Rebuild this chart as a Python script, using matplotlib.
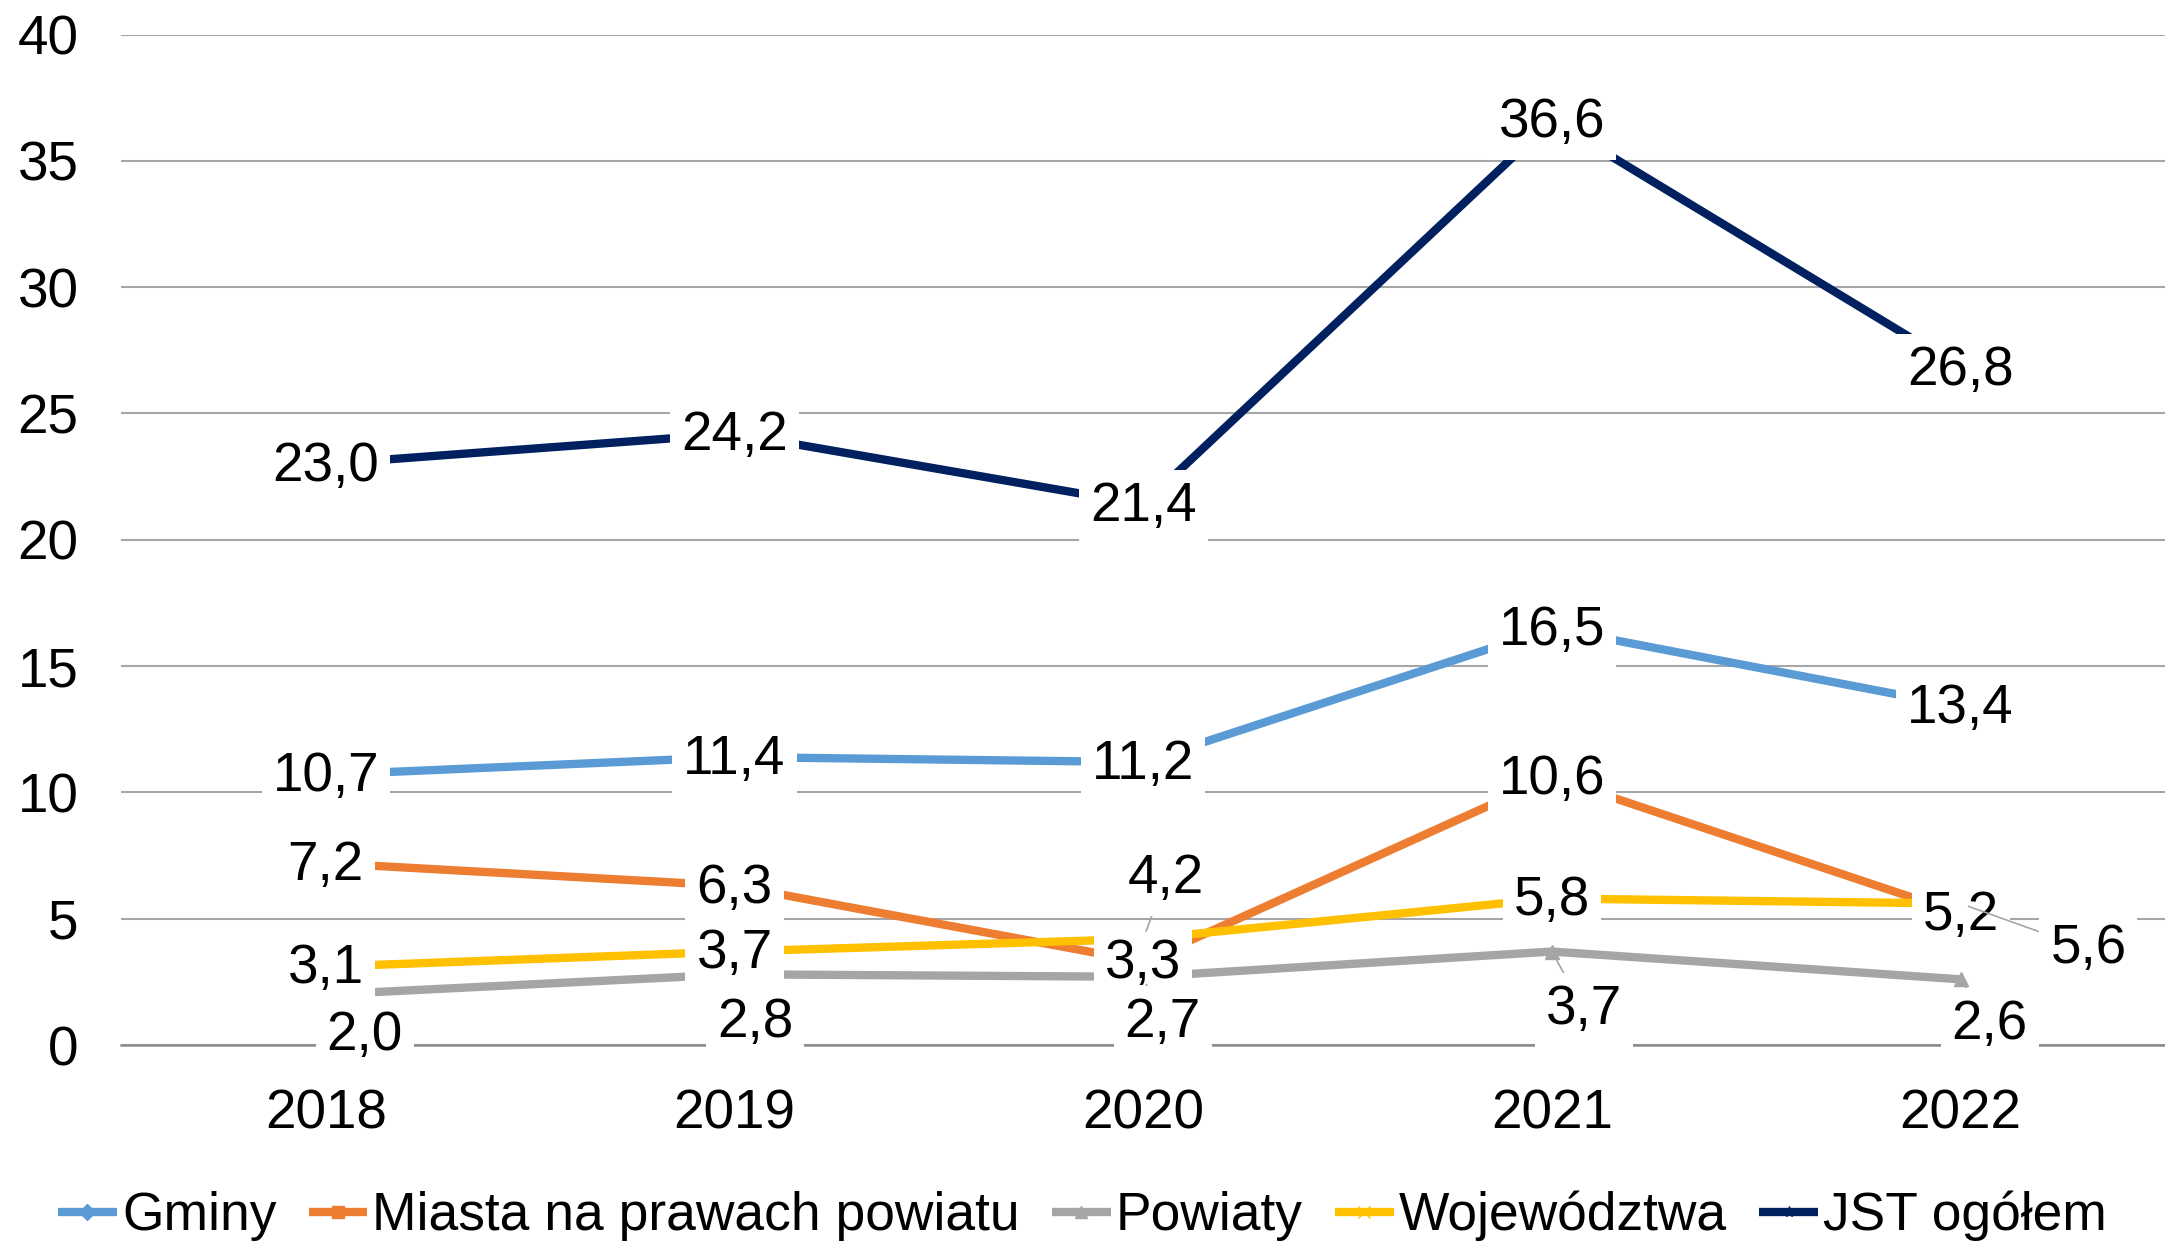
import matplotlib
matplotlib.use("Agg")
import matplotlib.pyplot as plt

plt.rcParams['font.family'] = ['Liberation Sans', 'DejaVu Sans']

years = ['2018', '2019', '2020', '2021', '2022']
gminy = [10.7, 11.4, 11.2, 16.5, 13.4]
miasta = [7.2, 6.3, 3.3, 10.6, 5.2]
powiaty = [2.0, 2.8, 2.7, 3.7, 2.6]
wojewodztwa = [3.1, 3.7, 4.2, 5.8, 5.6]
jst = [23.0, 24.2, 21.4, 36.6, 26.8]

series_names = ['Gminy', 'Miasta na prawach powiatu', 'Powiaty', 'Województwa', 'JST ogółem']
series_values = [gminy, miasta, powiaty, wojewodztwa, jst]
colors = ['#5B9BD5', '#ED7D31', '#A5A5A5', '#FFC000', '#002060']
markers = ['D', 's', '^', 'x', '*']

# label offsets in points (default: centered slightly below the point)
label_offsets = {
    2: [(28, -30), (15, -35), (14, -33), (23, -42), (21, -33)],
    3: [(0, -2), (0, -2), (16, 43), (0, -2), (92, -33)],
}

FS = 39.5

fig = plt.figure(figsize=(21.65, 12.42), dpi=100)
ax = fig.add_axes([0.0561, 0.1586, 0.9439, 0.8136])

x = list(range(len(years)))
for i, (name, vals) in enumerate(zip(series_names, series_values)):
    ax.plot(x, vals, color=colors[i], lw=6, marker=markers[i], markersize=10,
            markeredgecolor=colors[i], label=name, zorder=3, solid_capstyle='butt')

for i, vals in enumerate(series_values):
    offs = label_offsets.get(i, [(0, -2)] * len(vals))
    for xi, v in enumerate(vals):
        dx, dy = offs[xi]
        txt = f"{v:.1f}".replace('.', ',')
        bbox = dict(boxstyle='square,pad=0.2', fc='white', ec='none')
        if abs(dx) < 1 and abs(dy) < 5:
            ax.annotate(txt, (xi, v), xytext=(dx, dy), textcoords='offset points',
                        ha='center', va='center', fontsize=FS, bbox=bbox, zorder=5)
        else:
            ax.annotate(txt, (xi, v), xytext=(dx, dy), textcoords='offset points',
                        ha='center', va='center', fontsize=FS, bbox=bbox, zorder=5,
                        arrowprops=dict(arrowstyle='-', color='#A6A6A6', lw=1.2,
                                        shrinkA=0, shrinkB=6))

ax.set_xlim(-0.5, 4.5)
ax.set_ylim(0, 40)
ax.set_yticks(range(0, 41, 5))
ax.set_xticks(x)
ax.set_xticklabels(years)
ax.tick_params(axis='both', length=0, labelsize=FS)
ax.tick_params(axis='y', pad=31)
ax.tick_params(axis='x', pad=31)
ax.grid(axis='y', color='#A6A6A6', lw=1.5)
ax.set_axisbelow(True)
for s in ['top', 'right', 'left']:
    ax.spines[s].set_visible(False)
ax.spines['bottom'].set_color('#8C8C8C')
ax.spines['bottom'].set_linewidth(1.8)

fig.legend(loc='center', bbox_to_anchor=(0.5, 0.021), ncol=5, frameon=False,
           fontsize=38.4, handlelength=1.1, handletextpad=0.1, columnspacing=0.6,
           borderaxespad=0, borderpad=0, markerscale=0.8)

fig.savefig('out.png', dpi=100)
